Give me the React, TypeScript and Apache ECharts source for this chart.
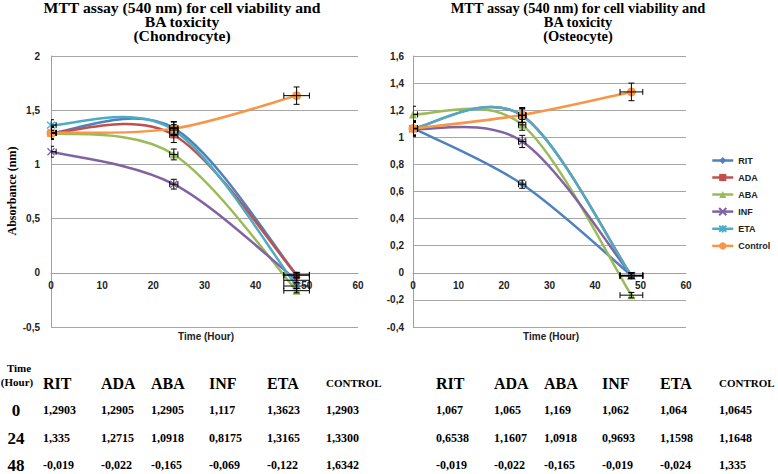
import React, { useEffect, useRef } from 'react';
import * as echarts from 'echarts';

// ---------- data ----------
const hours = [0, 24, 48];
const seriesNames = ['RIT', 'ADA', 'ABA', 'INF', 'ETA', 'Control'];
const tableHeaders = ['RIT', 'ADA', 'ABA', 'INF', 'ETA', 'CONTROL'];
const hourLabels = ['0', '24', '48'];

const chondroRow0 = ['1,2903', '1,2905', '1,2905', '1,117', '1,3623', '1,2903'];
const chondroRow24 = ['1,335', '1,2715', '1,0918', '0,8175', '1,3165', '1,3300'];
const chondroRow48 = ['-0,019', '-0,022', '-0,165', '-0,069', '-0,122', '1,6342'];

const osteoRow0 = ['1,067', '1,065', '1,169', '1,062', '1,064', '1,0645'];
const osteoRow24 = ['0,6538', '1,1607', '1,0918', '0,9693', '1,1598', '1,1648'];
const osteoRow48 = ['-0,019', '-0,022', '-0,165', '-0,019', '-0,024', '1,335'];

// estimated error bars (vertical, per series)
const chondroYErr0 = [0.06, 0.06, 0.05, 0.05, 0.05, 0.06];
const chondroYErr24 = [0.06, 0.07, 0.05, 0.045, 0.05, 0.06];
const chondroYErr48 = [0.02, 0.02, 0.02, 0.02, 0.02, 0.08];
const osteoYErr0 = [0.05, 0.05, 0.06, 0.05, 0.05, 0.06];
const osteoYErr24 = [0.03, 0.05, 0.04, 0.045, 0.05, 0.055];
const osteoYErr48 = [0.02, 0.02, 0.02, 0.02, 0.02, 0.065];
// horizontal error bars per hour
const hourXErr = [1, 0.8, 2.5];

// ---------- styling ----------
const colors = ['#4F81BD', '#C0504D', '#9BBB59', '#8064A2', '#4BACC6', '#F79646'];
const xPath = 'path://M0,0L10,10M10,0L0,10';
const starPath = 'path://M0,0L10,10M10,0L0,10M5,-1L5,11';
const symbols = ['diamond', 'rect', 'triangle', xPath, starPath, 'circle'];
const symbolSizes = [7, 7, 8, 7, 8, 9];

const num = (s: string) => parseFloat(s.replace(',', '.'));

function buildSeries(rows: string[][], errs: number[][], gridIndex: number) {
  const out: any[] = [];
  seriesNames.forEach((name, si) => {
    const pts = hours.map((h, hi) => [h, num(rows[hi][si])]);
    // smoothed curve (spreadsheet-style Bezier through the data points)
    out.push({
      type: 'custom',
      name: name + '-curve' + gridIndex,
      xAxisIndex: gridIndex,
      yAxisIndex: gridIndex,
      clip: true,
      z: 2 + si * 0.1,
      encode: { x: 0, y: 1 },
      data: pts,
      renderItem: (params: any, api: any) => {
        if (params.dataIndex !== 0) return null;
        const n = pts.length;
        const P = (i: number) => pts[Math.max(0, Math.min(n - 1, i))];
        const children: any[] = [];
        for (let i = 0; i < n - 1; i++) {
          const p0 = P(i - 1), p1 = P(i), p2 = P(i + 1), p3 = P(i + 2);
          const c1 = [p1[0] + (p2[0] - p0[0]) / 6, p1[1] + (p2[1] - p0[1]) / 6];
          const c2 = [p2[0] - (p3[0] - p1[0]) / 6, p2[1] - (p3[1] - p1[1]) / 6];
          const a = api.coord(p1), b = api.coord(c1), c = api.coord(c2), d = api.coord(p2);
          children.push({
            type: 'bezierCurve',
            shape: { x1: a[0], y1: a[1], cpx1: b[0], cpy1: b[1], cpx2: c[0], cpy2: c[1], x2: d[0], y2: d[1] },
            style: { stroke: colors[si], lineWidth: 2.5, fill: null },
          });
        }
        return { type: 'group', children };
      },
    });
    // markers + legend entry
    const isStroke = si === 3 || si === 4;
    out.push({
      type: 'line',
      name,
      xAxisIndex: gridIndex,
      yAxisIndex: gridIndex,
      data: pts,
      symbol: symbols[si],
      symbolSize: symbolSizes[si],
      lineStyle: { color: colors[si], width: 2.5, opacity: 0 },
      itemStyle: isStroke
        ? { color: colors[si], borderColor: colors[si], borderWidth: 1.3 }
        : { color: colors[si] },
      z: 3 + si * 0.1,
    });
  });
  const errData: number[][] = [];
  seriesNames.forEach((_, si) => {
    hours.forEach((h, hi) => {
      errData.push([h, num(rows[hi][si]), hourXErr[hi], errs[hi][si]]);
    });
  });
  out.push({
    type: 'custom',
    name: 'err' + gridIndex,
    xAxisIndex: gridIndex,
    yAxisIndex: gridIndex,
    clip: true,
    z: 5,
    encode: { x: 0, y: 1 },
    data: errData,
    renderItem: (params: any, api: any) => {
      const x = api.value(0);
      const y = api.value(1);
      const xe = api.value(2);
      const ye = api.value(3);
      const top = api.coord([x, y + ye]);
      const bot = api.coord([x, y - ye]);
      const lft = api.coord([x - xe, y]);
      const rgt = api.coord([x + xe, y]);
      const c = 3;
      const st = { stroke: '#000', lineWidth: 1 };
      const ln = (x1: number, y1: number, x2: number, y2: number) => ({
        type: 'line',
        shape: { x1, y1, x2, y2 },
        style: st,
      });
      return {
        type: 'group',
        children: [
          ln(top[0], top[1], bot[0], bot[1]),
          ln(top[0] - c, top[1], top[0] + c, top[1]),
          ln(bot[0] - c, bot[1], bot[0] + c, bot[1]),
          ln(lft[0], lft[1], rgt[0], rgt[1]),
          ln(lft[0], lft[1] - c, lft[0], lft[1] + c),
          ln(rgt[0], rgt[1] - c, rgt[0], rgt[1] + c),
        ],
      };
    },
  });
  return out;
}

const serif = 'Liberation Serif, Times New Roman, serif';
const sans = 'Liberation Sans, Arial, sans-serif';

function tableGraphics(rows: string[][], dx: number, withHours: boolean) {
  const colX = [43, 101, 151, 209, 267, 326];
  const rowY = [410, 438, 465];
  const els: any[] = [];
  tableHeaders.forEach((h, i) => {
    els.push({
      type: 'text',
      x: colX[i] + dx,
      y: 383,
      style: {
        text: h,
        font: `bold ${h === 'CONTROL' ? 11 : 16}px ${serif}`,
        fill: '#000',
        textAlign: 'left',
        textVerticalAlign: 'middle',
      },
    });
  });
  rows.forEach((r, ri) => {
    r.forEach((v, ci) => {
      els.push({
        type: 'text',
        x: colX[ci] + dx,
        y: rowY[ri],
        style: {
          text: v,
          font: `bold 12px ${serif}`,
          fill: '#000',
          textAlign: 'left',
          textVerticalAlign: 'middle',
        },
      });
    });
    if (withHours) {
      els.push({
        type: 'text',
        x: 16 + dx,
        y: rowY[ri],
        style: {
          text: hourLabels[ri],
          font: `bold 17px ${serif}`,
          fill: '#000',
          textAlign: 'center',
          textVerticalAlign: 'middle',
        },
      });
    }
  });
  if (withHours) {
    els.push({
      type: 'text', x: 19 + dx, y: 368,
      style: { text: 'Time', font: `bold 11px ${serif}`, fill: '#000', textAlign: 'center', textVerticalAlign: 'middle' },
    });
    els.push({
      type: 'text', x: 17 + dx, y: 382,
      style: { text: '(Hour)', font: `bold 11px ${serif}`, fill: '#000', textAlign: 'center', textVerticalAlign: 'middle' },
    });
  }
  return els;
}

function titleGraphics(lines: string[], cx: number, sx: number) {
  const ys = [8, 22, 36];
  return lines.map((t, i) => ({
    type: 'text',
    x: cx,
    y: ys[i],
    scaleX: sx,
    style: {
      text: t,
      font: `bold 14px ${serif}`,
      fill: '#000',
      textAlign: 'center',
      textVerticalAlign: 'middle',
    },
  }));
}

const labelFmt = (v: number) => String(Number(v.toFixed(2))).replace('.', ',');
const axisLabelStyle = { fontFamily: sans, fontWeight: 'bold', fontSize: 10, color: '#222' };

export default function App() {
  const ref = useRef<HTMLDivElement>(null);
  useEffect(() => {
    if (!ref.current) return;
    const chart = echarts.init(ref.current, undefined, { renderer: 'svg' });
    const chondroRows = [chondroRow0, chondroRow24, chondroRow48];
    const osteoRows = [osteoRow0, osteoRow24, osteoRow48];
    const chondroErrs = [chondroYErr0, chondroYErr24, chondroYErr48];
    const osteoErrs = [osteoYErr0, osteoYErr24, osteoYErr48];

    const plotH = 271;
    // x axis sits on the y = 0 line: shift it up from the grid bottom
    const zeroOffset = (min: number, max: number) => -plotH * (0 - min) / (max - min);

    const xAxisBase = (gi: number, offset: number) => ({
      gridIndex: gi,
      type: 'value',
      min: 0,
      max: 60,
      interval: 10,
      offset,
      axisLine: { show: true, onZero: false, lineStyle: { color: '#a0a0a0', width: 1 } },
      axisTick: { show: false },
      splitLine: { show: false },
      axisLabel: { ...axisLabelStyle, margin: 8 },
    });
    const yAxisBase = (gi: number, min: number, max: number, interval: number, margin: number) => ({
      gridIndex: gi,
      type: 'value',
      min,
      max,
      interval,
      axisLine: { show: true, onZero: false, lineStyle: { color: '#a0a0a0', width: 1 } },
      axisTick: { show: false },
      splitLine: { show: true, lineStyle: { color: '#a6a6a6', width: 1 } },
      axisLabel: { ...axisLabelStyle, margin, formatter: labelFmt },
    });

    chart.setOption({
      animation: false,
      backgroundColor: '#fff',
      grid: [
        { left: 51, top: 56, width: 307, height: plotH },
        { left: 413, top: 56, width: 273, height: plotH },
      ],
      xAxis: [xAxisBase(0, zeroOffset(-0.5, 2)), xAxisBase(1, zeroOffset(-0.4, 1.6))],
      yAxis: [yAxisBase(0, -0.5, 2, 0.5, 11), yAxisBase(1, -0.4, 1.6, 0.2, 9)],
      legend: {
        orient: 'vertical',
        left: 706,
        top: 151,
        itemWidth: 21,
        itemHeight: 9,
        itemGap: 8,
        data: seriesNames,
        lineStyle: { width: 2.5, opacity: 1 },
        textStyle: { fontFamily: sans, fontWeight: 'bold', fontSize: 9, color: '#222' },
      },
      series: [
        ...buildSeries(chondroRows, chondroErrs, 0),
        ...buildSeries(osteoRows, osteoErrs, 1),
      ],
      graphic: [
        ...titleGraphics(['MTT assay (540 nm) for cell viability and', 'BA toxicity', '(Chondrocyte)'], 182, 1.12),
        ...titleGraphics(['MTT assay (540 nm) for cell viability and', 'BA toxicity', '(Osteocyte)'], 578, 1.03),
        {
          type: 'text', x: 206, y: 336,
          style: { text: 'Time (Hour)', font: `bold 10px ${sans}`, fill: '#222', textAlign: 'center', textVerticalAlign: 'middle' },
        },
        {
          type: 'text', x: 551, y: 336,
          style: { text: 'Time (Hour)', font: `bold 10px ${sans}`, fill: '#222', textAlign: 'center', textVerticalAlign: 'middle' },
        },
        {
          type: 'text', x: 12, y: 191, rotation: Math.PI / 2,
          style: { text: 'Absorbance (nm)', font: `bold 12px ${serif}`, fill: '#000', textAlign: 'center', textVerticalAlign: 'middle' },
        },
        ...tableGraphics(chondroRows, 0, true),
        ...tableGraphics(osteoRows, 393, false),
      ],
    });
    return () => chart.dispose();
  }, []);
  return (
    <div
      ref={ref}
      style={{ position: 'absolute', left: 0, top: 0, width: 778, height: 474, background: '#fff' }}
    />
  );
}
